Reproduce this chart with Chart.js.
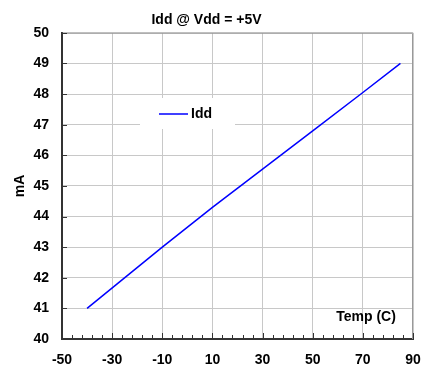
<!DOCTYPE html>
<html>
<head>
<meta charset="utf-8">
<script src="https://cdn.jsdelivr.net/npm/chart.js@4.4.1/dist/chart.umd.min.js"></script>
<style>
  html, body { margin: 0; padding: 0; background: #fff; }
  #wrap { width: 422px; height: 368px; }
</style>
</head>
<body>
<div id="wrap"><canvas id="iddChart" width="422" height="368"></canvas></div>
<script>
// Idd vs temperature
const temps = [-40, -10, 10, 30, 50, 70, 85];
const iddValues = [41.0, 43.0, 44.3, 45.55, 46.8, 48.05, 49.0];
const xTicks = [-50, -30, -10, 10, 30, 50, 70, 90];
const yTicks = [40, 41, 42, 43, 44, 45, 46, 47, 48, 49, 50];

const FONT = "'Liberation Sans', Arial, sans-serif";
const LINE_COLOR = '#0000ff';

const extras = {
  id: 'extras',
  afterDraw(chart) {
    const { ctx, chartArea: a, scales: { x, y } } = chart;
    ctx.save();

    // top / right frame
    ctx.strokeStyle = '#999';
    ctx.lineWidth = 1;
    ctx.beginPath();
    ctx.moveTo(a.left, a.top + 0.5);
    ctx.lineTo(a.right - 0.5, a.top + 0.5);
    ctx.lineTo(a.right - 0.5, a.bottom);
    ctx.stroke();

    // inside tick marks
    ctx.strokeStyle = '#333';
    ctx.beginPath();
    yTicks.forEach(v => {
      const py = Math.round(y.getPixelForValue(v)) + 0.5;
      ctx.moveTo(a.left, py);
      ctx.lineTo(a.left + 5, py);
    });
    for (let v = xTicks[0]; v <= xTicks[xTicks.length - 1]; v += 4) {
      const px = Math.round(x.getPixelForValue(v)) + 0.5;
      const len = (v - xTicks[0]) % 20 === 0 ? 6 : 4;
      ctx.moveTo(px, a.bottom);
      ctx.lineTo(px, a.bottom - len);
    }
    ctx.stroke();

    // legend box inside the plot
    ctx.fillStyle = '#fff';
    ctx.fillRect(140, 98, 95, 31);
    ctx.strokeStyle = LINE_COLOR;
    ctx.lineWidth = 1.5;
    ctx.beginPath();
    ctx.moveTo(159, 114);
    ctx.lineTo(188, 114);
    ctx.stroke();
    ctx.fillStyle = '#000';
    ctx.font = 'bold 14px ' + FONT;
    ctx.textBaseline = 'middle';
    ctx.textAlign = 'left';
    ctx.fillText(chart.data.datasets[0].label, 191, 114);

    // x axis title sits inside the plot
    ctx.textAlign = 'center';
    ctx.fillText('Temp (C)', 366, 317);

    ctx.restore();
  }
};

new Chart(document.getElementById('iddChart'), {
  type: 'scatter',
  data: {
    datasets: [{
      label: 'Idd',
      data: temps.map((t, i) => ({ x: t, y: iddValues[i] })),
      showLine: true,
      borderColor: LINE_COLOR,
      backgroundColor: LINE_COLOR,
      borderWidth: 1.5,
      pointRadius: 0,
      tension: 0
    }]
  },
  options: {
    responsive: false,
    animation: false,
    layout: { padding: { left: 0, right: 9, top: 0, bottom: 0 } },
    plugins: {
      legend: { display: false },
      tooltip: { enabled: false },
      title: {
        display: true,
        text: 'Idd @ Vdd = +5V',
        color: '#000',
        font: { family: FONT, size: 14, weight: 'bold' },
        padding: { top: 12, bottom: 4 }
      }
    },
    scales: {
      x: {
        type: 'linear',
        min: xTicks[0],
        max: xTicks[xTicks.length - 1],
        afterBuildTicks: s => { s.ticks = xTicks.map(v => ({ value: v })); },
        afterFit: s => { s.height = 29; s.paddingLeft = 0; s.paddingRight = 0; },
        grid: { color: '#c8c8c8', drawTicks: false },
        border: { display: true, color: '#333', width: 2 },
        ticks: { color: '#000', padding: 13, maxRotation: 0, font: { family: FONT, size: 14, weight: 'bold' } }
      },
      y: {
        min: yTicks[0],
        max: yTicks[yTicks.length - 1],
        afterBuildTicks: s => { s.ticks = yTicks.map(v => ({ value: v })); },
        afterFit: s => { s.width = 62; s.paddingTop = 0; s.paddingBottom = 0; },
        grid: { color: '#c8c8c8', drawTicks: false },
        border: { display: true, color: '#333', width: 2 },
        ticks: { color: '#000', padding: 13, font: { family: FONT, size: 14, weight: 'bold' } },
        title: {
          display: true,
          text: 'mA',
          color: '#000',
          padding: { top: 12, bottom: 0 },
          font: { family: FONT, size: 14, weight: 'bold' }
        }
      }
    }
  },
  plugins: [extras]
});
</script>
</body>
</html>
